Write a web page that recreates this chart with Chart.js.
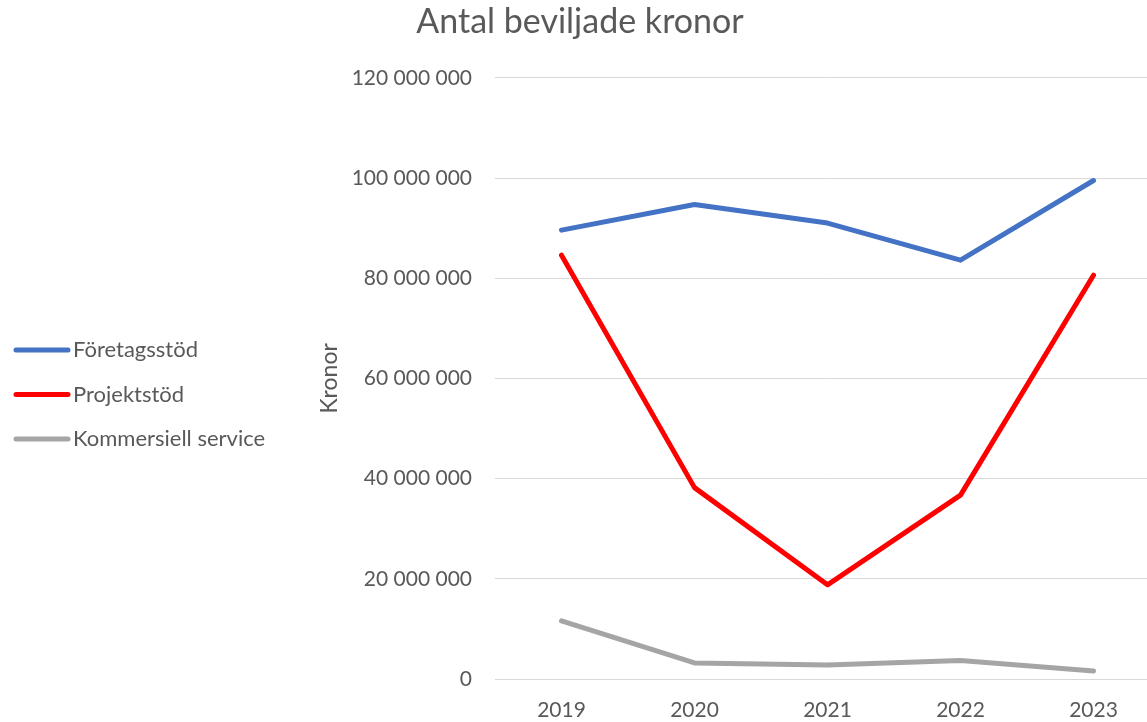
<!DOCTYPE html>
<html>
<head>
<meta charset="utf-8">
<script src="https://cdn.jsdelivr.net/npm/chart.js@4"></script>
<style>
  html, body { margin: 0; padding: 0; overflow: hidden; background: #fff; }
  #wrap { width: 1160px; height: 722px; }
</style>
</head>
<body>
<div id="wrap"><canvas id="beviljadeChart" width="1160" height="722"></canvas></div>
<script>
const years = ['2019', '2020', '2021', '2022', '2023'];
const foretagsstod = [89600000, 94700000, 91000000, 83600000, 99500000];
const projektstod = [84600000, 38200000, 18800000, 36700000, 80600000];
const kommersiellService = [11600000, 3200000, 2800000, 3700000, 1600000];

const textColor = '#595959';
const fontFamily = 'Lato, Carlito, Calibri, sans-serif';

function formatKronor(value) {
    return String(value).replace(/\B(?=(\d{3})+(?!\d))/g, ' ');
}

// legend drawn by hand on the left, like the Excel original
const sideLegend = {
    id: 'sideLegend',
    afterDraw(chart) {
        const ctx = chart.ctx;
        const startY = 350;
        const gap = 44.5;
        ctx.save();
        chart.data.datasets.forEach((ds, i) => {
            const y = startY + i * gap;
            ctx.strokeStyle = ds.borderColor;
            ctx.lineWidth = 5;
            ctx.lineCap = 'round';
            ctx.beginPath();
            ctx.moveTo(16, y);
            ctx.lineTo(68, y);
            ctx.stroke();
            ctx.fillStyle = textColor;
            ctx.font = '22px ' + fontFamily;
            ctx.textBaseline = 'middle';
            ctx.fillText(ds.label, 73, y);
        });
        ctx.restore();
    }
};

const ctx = document.getElementById('beviljadeChart').getContext('2d');
const beviljadeChart = new Chart(ctx, {
    type: 'line',
    data: {
        labels: years,
        datasets: [
            {
                label: 'Företagsstöd',
                data: foretagsstod,
                borderColor: '#4472C4',
                backgroundColor: '#4472C4'
            },
            {
                label: 'Projektstöd',
                data: projektstod,
                borderColor: '#FF0000',
                backgroundColor: '#FF0000'
            },
            {
                label: 'Kommersiell service',
                data: kommersiellService,
                borderColor: '#A5A5A5',
                backgroundColor: '#A5A5A5'
            }
        ]
    },
    options: {
        responsive: false,
        animation: false,
        layout: { padding: 0 },
        elements: {
            line: { borderWidth: 5, borderCapStyle: 'round', borderJoinStyle: 'round', tension: 0, fill: false },
            point: { radius: 0, hoverRadius: 0 }
        },
        plugins: {
            legend: { display: false },
            tooltip: { enabled: false },
            title: {
                display: true,
                text: 'Antal beviljade kronor',
                color: textColor,
                font: { family: fontFamily, size: 34, weight: 'normal' },
                padding: { top: 2, bottom: 35 }
            }
        },
        scales: {
            x: {
                offset: true,
                grid: { display: false, drawTicks: false },
                border: { display: true, color: '#D9D9D9', width: 1 },
                ticks: {
                    color: textColor,
                    font: { family: fontFamily, size: 21 },
                    padding: 19,
                    maxRotation: 0
                },
                afterFit(scale) { scale.height = 43; }
            },
            y: {
                min: 0,
                max: 120000000,
                ticks: {
                    stepSize: 20000000,
                    color: textColor,
                    font: { family: fontFamily, size: 21 },
                    padding: 23,
                    callback: v => formatKronor(v)
                },
                grid: { color: '#D9D9D9', lineWidth: 1, drawTicks: false },
                border: { display: false },
                title: {
                    display: true,
                    text: 'Kronor',
                    color: textColor,
                    font: { family: fontFamily, size: 23, weight: 'normal' },
                    padding: { top: 316, bottom: 0 }
                },
                afterFit(scale) { scale.width = 495; }
            }
        }
    },
    plugins: [sideLegend]
});
</script>
</body>
</html>
